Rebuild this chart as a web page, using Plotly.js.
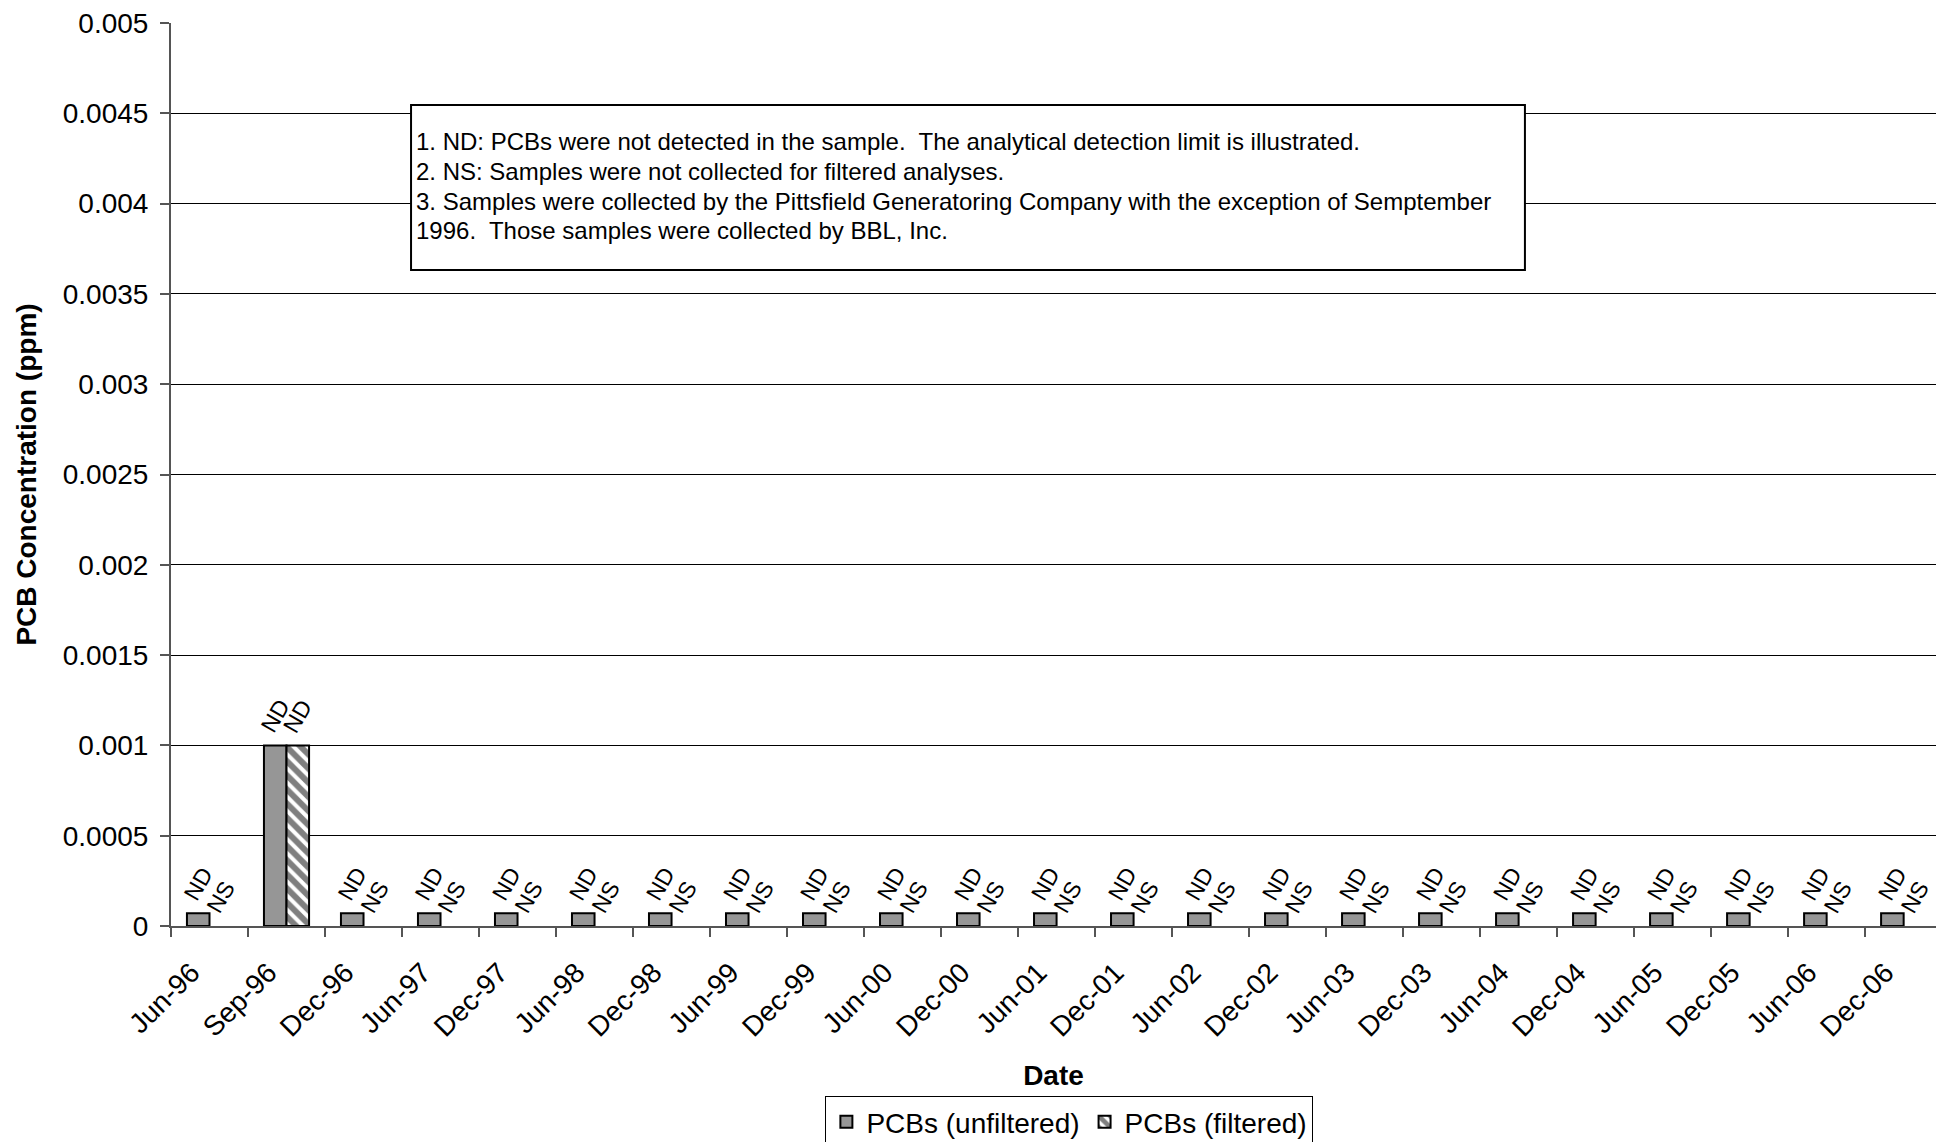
<!DOCTYPE html>
<html>
<head>
<meta charset="utf-8">
<script src="https://cdn.plot.ly/plotly-3.0.1.min.js"></script>
<style>
  html, body { margin: 0; padding: 0; background: #fff; overflow: hidden; width: 1936px; height: 1142px; }
  #chart { width: 1936px; height: 1148px; }
</style>
</head>
<body>
<div id="chart"></div>
<script>
// Categories (sampling dates)
const dates = ['Jun-96','Sep-96','Dec-96','Jun-97','Dec-97','Jun-98','Dec-98','Jun-99','Dec-99',
  'Jun-00','Dec-00','Jun-01','Dec-01','Jun-02','Dec-02','Jun-03','Dec-03','Jun-04','Dec-04',
  'Jun-05','Dec-05','Jun-06','Dec-06'];

// PCB concentrations (ppm) - detection limits shown for ND results
const unfiltered = [0.00007, 0.001, 0.00007, 0.00007, 0.00007, 0.00007, 0.00007, 0.00007, 0.00007,
  0.00007, 0.00007, 0.00007, 0.00007, 0.00007, 0.00007, 0.00007, 0.00007, 0.00007, 0.00007,
  0.00007, 0.00007, 0.00007, 0.00007];
const filtered = [null, 0.001, null, null, null, null, null, null, null,
  null, null, null, null, null, null, null, null, null, null,
  null, null, null, null];

// Data labels
const unfilteredLabels = ['ND','ND','ND','ND','ND','ND','ND','ND','ND','ND','ND','ND','ND','ND','ND',
  'ND','ND','ND','ND','ND','ND','ND','ND'];
const filteredLabels = ['NS','ND','NS','NS','NS','NS','NS','NS','NS','NS','NS','NS','NS','NS','NS',
  'NS','NS','NS','NS','NS','NS','NS','NS'];

const seriesNames = ['PCBs (unfiltered)', 'PCBs (filtered)'];
const yTicks = [0, 0.0005, 0.001, 0.0015, 0.002, 0.0025, 0.003, 0.0035, 0.004, 0.0045, 0.005];

const noteLines = [
  '1. ND: PCBs were not detected in the sample.  The analytical detection limit is illustrated.',
  '2. NS: Samples were not collected for filtered analyses.',
  '3. Samples were collected by the Pittsfield Generatoring Company with the exception of Semptember',
  '1996.  Those samples were collected by BBL, Inc.'
];

const FONT = 'Liberation Sans, Arial, sans-serif';
const bargap = 0.414;
const barOffset = (1 - bargap) / 4; // center offset of each grouped bar

const traces = [
  {
    type: 'bar', name: seriesNames[0], x: dates, y: unfiltered,
    marker: { color: '#969696', line: { color: '#000', width: 2 } },
    hoverinfo: 'x+y'
  },
  {
    type: 'bar', name: seriesNames[1], x: dates, y: filtered,
    marker: {
      color: '#ffffff', line: { color: '#000', width: 2 },
      pattern: { shape: '\\', fgcolor: '#000', bgcolor: '#fff', size: 10, solidity: 0.6, fillmode: 'overlay' }
    },
    hoverinfo: 'x+y'
  }
];

const annotations = [];
dates.forEach((d, i) => {
  annotations.push({
    x: i - barOffset, y: unfiltered[i], xref: 'x', yref: 'y',
    text: unfilteredLabels[i], showarrow: false, textangle: -60, borderpad: 0,
    xanchor: 'center', yanchor: 'bottom', yshift: 7,
    font: { family: FONT, size: 23, color: '#000' }
  });
  annotations.push({
    x: i + barOffset, y: filtered[i] === null ? 0 : filtered[i], xref: 'x', yref: 'y',
    text: filteredLabels[i], showarrow: false, textangle: -60, borderpad: 0,
    xanchor: 'center', yanchor: 'bottom', yshift: 7,
    font: { family: FONT, size: 23, color: '#000' }
  });
});

// Note box text lines
const noteY = [0.8693, 0.8354, 0.8026, 0.7698];
noteLines.forEach((t, k) => {
  annotations.push({
    xref: 'paper', yref: 'paper', x: 0.1379, y: noteY[k], xanchor: 'left', yanchor: 'middle',
    text: t, showarrow: false, align: 'left',
    font: { family: FONT, size: 24, color: '#000' }
  });
});

const shapes = [{
  type: 'rect', xref: 'paper', yref: 'paper', x0: 0.136, x1: 0.7671, y0: 0.7265, y1: 0.9092,
  fillcolor: '#fff', line: { color: '#000', width: 2 }, layer: 'above'
}];

const layout = {
  width: 1936, height: 1148,
  margin: { l: 171, r: 0, t: 23, b: 222, autoexpand: false },
  paper_bgcolor: '#fff', plot_bgcolor: '#fff',
  font: { family: FONT, size: 28, color: '#000' },
  barmode: 'group', bargap: bargap, bargroupgap: 0,
  showlegend: true,
  legend: {
    orientation: 'h', xref: 'paper', x: 0.509, xanchor: 'center',
    yref: 'container', y: 0, yanchor: 'bottom',
    bordercolor: '#000', borderwidth: 1, bgcolor: '#fff',
    font: { family: FONT, size: 28, color: '#000' }, traceorder: 'normal'
  },
  xaxis: {
    type: 'category', range: [-0.5, 22.42], automargin: false,
    tickangle: -45, ticks: 'outside', ticklen: 9, tickcolor: '#555', tickwidth: 2,
    tickson: 'boundaries', ticklabelshift: -18, ticklabelstandoff: 17,
    showline: true, linecolor: '#555', linewidth: 2,
    showgrid: false, zeroline: false,
    tickfont: { family: FONT, size: 28, color: '#000' },
    title: { text: '<b>Date</b>', font: { family: FONT, size: 28, color: '#000' }, standoff: 24 }
  },
  yaxis: {
    range: [0, 0.005], tickvals: yTicks, tickformat: '~g', automargin: false,
    ticks: 'outside', ticklen: 9, tickcolor: '#555', tickwidth: 2,
    ticklabelstandoff: 6,
    showline: true, linecolor: '#555', linewidth: 2,
    showgrid: true, gridcolor: '#000', gridwidth: 1,
    zeroline: false,
    tickfont: { family: FONT, size: 28, color: '#000' },
    title: { text: '<b>PCB Concentration (ppm)</b>', font: { family: FONT, size: 28, color: '#000' }, standoff: 18 }
  },
  shapes: shapes,
  annotations: annotations
};

Plotly.newPlot('chart', traces, layout, { displayModeBar: false, staticPlot: true });
</script>
</body>
</html>
